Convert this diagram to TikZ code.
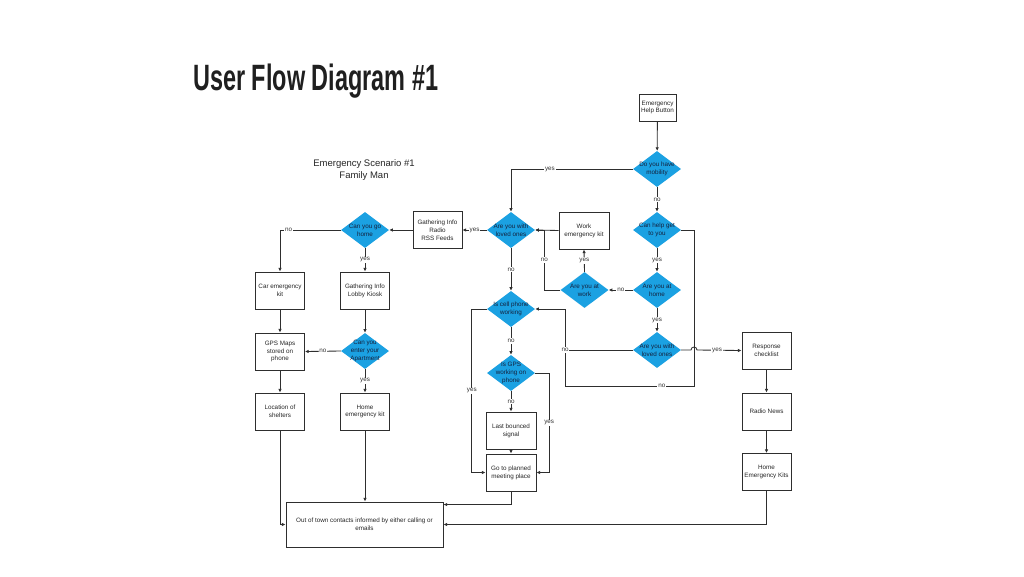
\documentclass[tikz,border=0pt]{standalone}
\usepackage{fontspec}
\usepackage{graphicx}
\setmainfont{Liberation Sans}
\usetikzlibrary{shapes.geometric,arrows.meta}
\definecolor{dblue}{HTML}{1BA1E2}
\definecolor{dtxt}{HTML}{14213D}
\definecolor{linec}{HTML}{2E2E2E}
\newcommand\dnode[3]{\node[dshape] (#1) at (#2) {}; \node[dtext] (#1-t) at (#2) {#3};}
\begin{document}
\begin{tikzpicture}[x=1pt,y=-1pt,
  box/.style={draw=linec, line width=0.9pt, fill=white, minimum width=49pt, minimum height=37pt, inner sep=0pt, align=center, font=\fontsize{6.3}{7.8}\selectfont, text=black!85},
  dshape/.style={diamond, fill=dblue, minimum width=48pt, minimum height=36pt, inner sep=0pt},
  dtext/.style={align=center, font=\fontsize{6.3}{7.8}\selectfont, text=dtxt, inner sep=0pt},
  arr/.style={draw=linec, line width=0.85pt, -{Latex[length=3.6pt,width=3.4pt]}},
  ln/.style={draw=linec, line width=0.85pt},
  lbl/.style={fill=white, inner sep=0.8pt, font=\fontsize{6.3}{7}\selectfont, text=black!80}]
\useasboundingbox (0,0) rectangle (1024,576);
\fill[white] (0,0) rectangle (1024,576);

% titles
\node[anchor=base west, inner sep=0pt, text=black!88] (title) at (193,90) {\fontsize{35}{35}\selectfont\resizebox{245pt}{!}{\scalebox{0.64}[1]{\bfseries User Flow Diagram \#1}}};
\node[align=center, inner sep=0pt, font=\fontsize{9.5}{12}\selectfont, text=black!85] (sub) at (364,170) {Emergency Scenario \#1\\Family Man};

% nodes
\node[box, minimum width=37pt, minimum height=27pt] (ehb) at (657.5,107.5) {Emergency\\Help Button};
\dnode{mob}{657,169}{Do you have\\mobility}
\dnode{chg}{657,230}{Can help get\\to you}
\dnode{home}{657,290}{Are you at\\home}
\dnode{lo2}{657,350}{Are you with\\loved ones}
\node[box, minimum width=50pt] (wkit) at (584,230.5) {Work\\emergency kit};
\dnode{work}{584.5,290}{Are you at\\work}
\dnode{lo1}{511,230}{Are you with\\loved ones}
\node[box] (rss) at (437.5,230) {Gathering Info\\Radio\\RSS Feeds};
\dnode{cgh}{365,230}{Can you go\\home}
\node[box] (car) at (280,290.5) {Car emergency\\kit};
\node[box] (lobby) at (365,290.5) {Gathering Info\\Lobby Kiosk};
\dnode{apt}{365,351}{Can you\\enter your\\Apartment}
\node[box] (gpsm) at (280,351.5) {GPS Maps\\stored on\\phone};
\node[box] (hek) at (365,411.5) {Home\\emergency kit};
\node[box] (loc) at (280,411.5) {Location of\\shelters};
\node[box, minimum width=157pt, minimum height=45pt] (oot) at (364.5,524.5) {Out of town contacts informed by either calling or\\emails};
\dnode{cell}{511,309}{Is cell phone\\working}
\dnode{gpsw}{511,373}{Is GPS\\working on\\phone}
\node[box, minimum width=50pt] (lbs) at (511,430.5) {Last bounced\\signal};
\node[box, minimum width=50pt] (meet) at (511,472.5) {Go to planned\\meeting place};
\node[box] (resp) at (766.5,350.5) {Response\\checklist};
\node[box] (radio) at (766.5,411.5) {Radio News};
\node[box] (hekits) at (766.5,472) {Home\\Emergency Kits};

% route coordinates
\coordinate (j1) at (694,230);
\coordinate (j2) at (694,386);
\coordinate (j3) at (565,386);

% connectors
\draw[arr] (ehb) -- (mob);
\draw[arr] (mob.west) -| node[lbl,pos=0.34]{yes} (lo1.north);
\draw[arr] (mob.south) -- node[lbl]{no} (chg.north);
\draw[arr] (chg.south) -- node[lbl]{yes} (home.north);
\draw[arr] (home.south) -- node[lbl]{yes} (lo2.north);
\draw[arr] (home.west) -- node[lbl]{no} (work.east);
\draw[arr] (work.north) -- node[lbl]{yes} (wkit.south);
\draw[arr] (wkit.west) -- (lo1.east);
\draw[arr] (work.west) -- ++(-16,0) coordinate (c1) -- node[lbl]{no} (c1 |- lo1.east) -- (lo1.east);
\draw[arr] (lo1.west) -- node[lbl]{yes} (rss.east);
\draw[arr] (rss.west) -- (cgh.east);
\draw[arr] (cgh.west) -| node[lbl,pos=0.43]{no} (car.north);
\draw[arr] (cgh.south) -- node[lbl]{yes} (lobby.north);
\draw[arr] (lobby.south) -- (apt.north);
\draw[arr] (apt.west) -- node[lbl]{no} (gpsm.east);
\draw[arr] (apt.south) -- node[lbl]{yes} (hek.north);
\draw[arr] (car.south) -- (gpsm.north);
\draw[arr] (gpsm.south) -- (loc.north);
\draw[arr] (loc.south) |- (oot.west);
\draw[arr] (hek.south) -- (hek.south |- oot.north);
\draw[arr] (lo1.south) -- node[lbl]{no} (cell.north);
\draw[arr] (cell.south) -- node[lbl]{no} (gpsw.north);
\draw[arr] (gpsw.south) -- node[lbl]{no} (lbs.north);
\draw[arr] (lbs.south) -- (meet.north);
\draw[arr] (cell.west) -- ++(-15,0) coordinate (c2) -- node[lbl]{yes} (c2 |- meet.west) -- (meet.west);
\draw[arr] (gpsw.east) -- ++(14,0) coordinate (c3) -- node[lbl]{yes} (c3 |- meet.east) -- (meet.east);
\draw[arr] (meet.south) |- ([yshift=-3pt]oot.north east);
\draw[arr] (hekits.south) |- (oot.east);
\draw[arr] (resp.south) -- (radio.north);
\draw[arr] (radio.south) -- (hekits.north);
\draw[arr] (chg.east) -| (j2) -- node[lbl,pos=0.25]{no} (j3) |- (cell.east);
\draw[ln] (lo2.west) -- (lo2.west -| j3) node[lbl]{no};
\draw[arr] (lo2.east) -- ([xshift=-3pt]lo2.east -| j1) arc[start angle=180, end angle=0, radius=3pt] -- node[lbl,pos=0.45]{yes} (resp.west);
\end{tikzpicture}
\end{document}
